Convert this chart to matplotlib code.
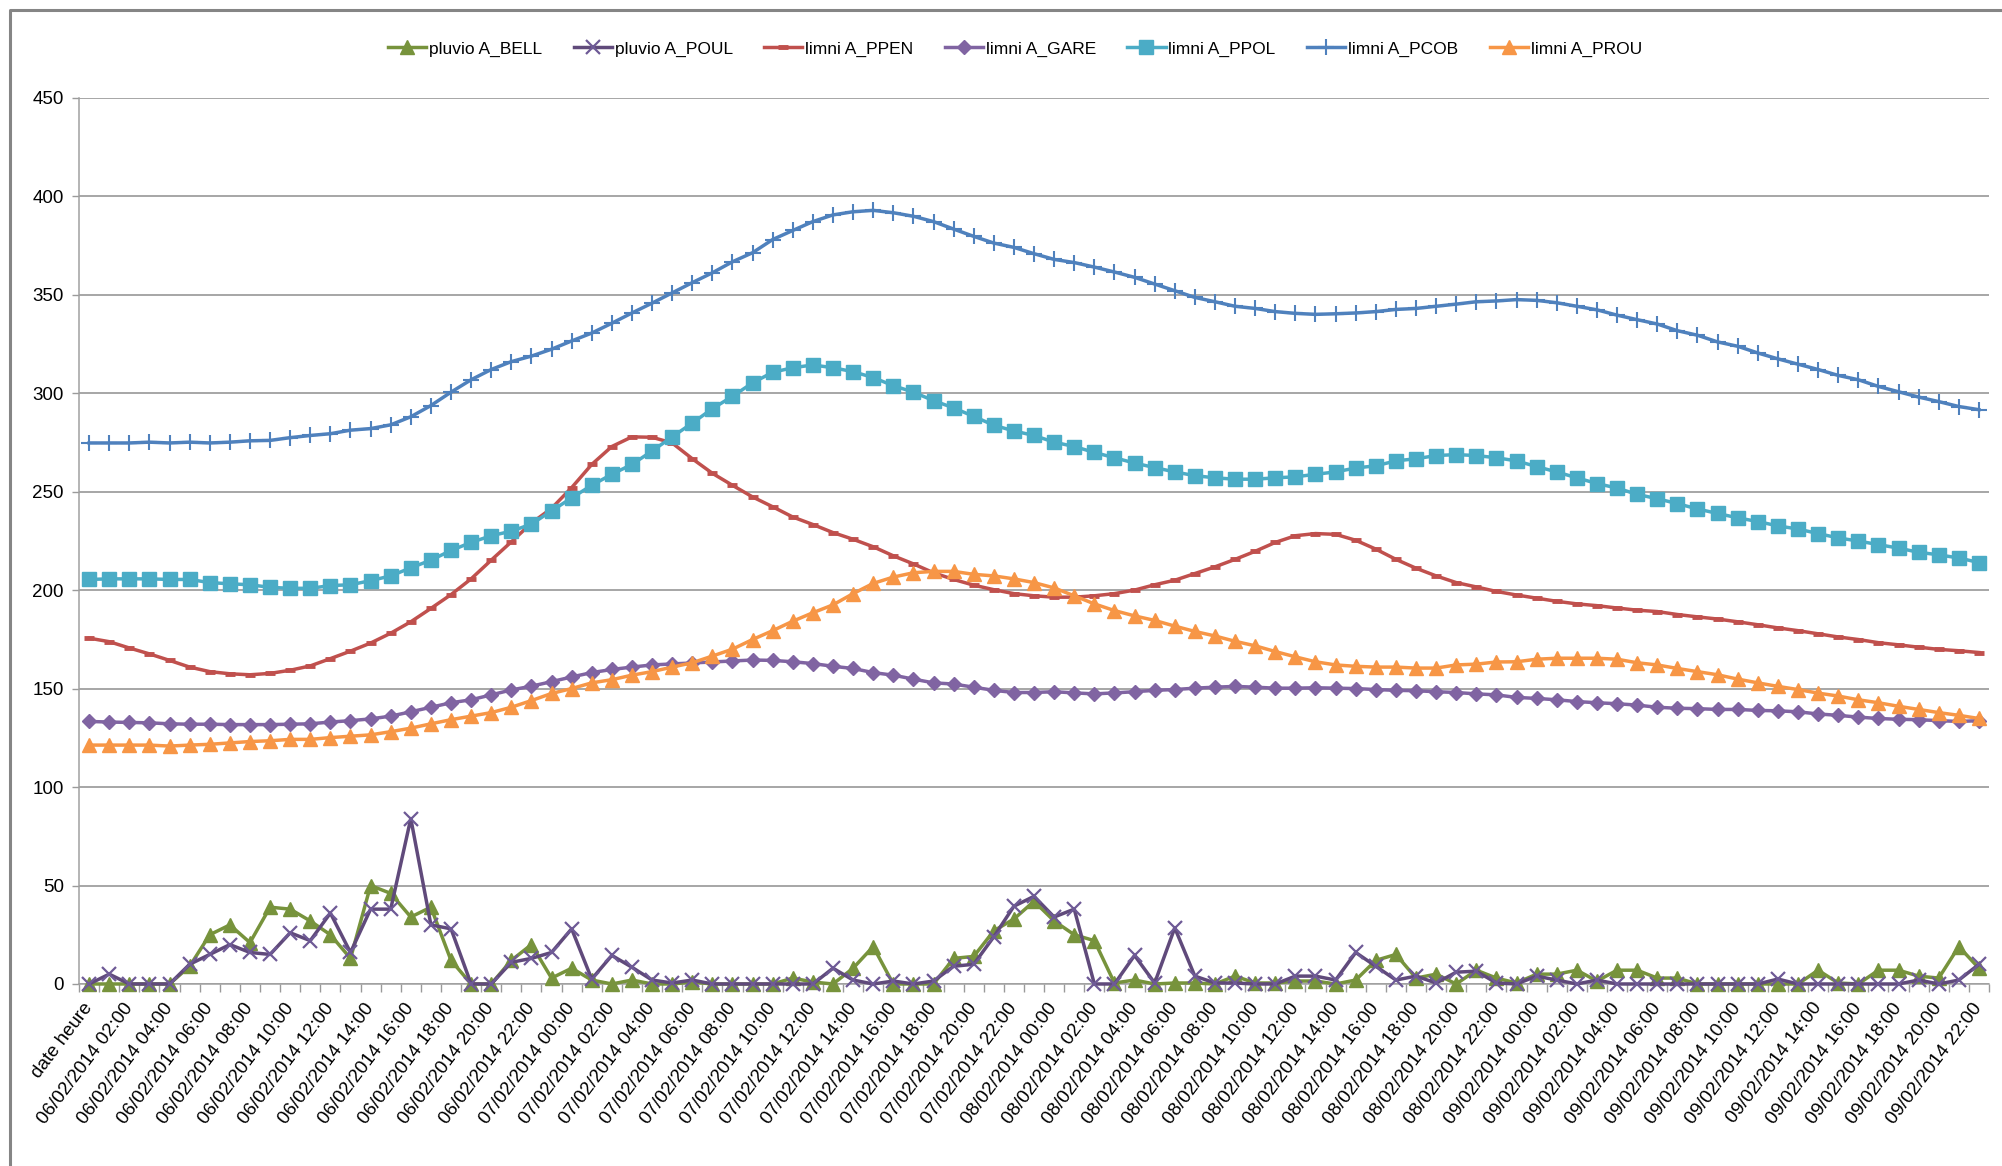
import matplotlib
matplotlib.use('Agg')
import matplotlib.pyplot as plt
import numpy as np
import pandas as pd
from matplotlib.lines import Line2D

plt.rcParams['font.family'] = ['Liberation Sans', 'DejaVu Sans']

# hourly categories: first one is the header cell "date heure"
times = pd.date_range('2014-02-06 01:00', periods=94, freq='h')
categories = ['date heure'] + [t.strftime('%d/%m/%Y %H:%M') for t in times]

pluvio_bell = [0, 0, 0, 0, 0, 9, 25, 30, 21, 39,
               38, 32, 25, 13, 50, 46, 34, 39, 12, 0,
               0, 12, 20, 3, 8, 2, 0, 2, 0, 0,
               1, 0, 0, 0, 0, 3, 1, 0, 8, 19,
               0, 0, 0, 13, 14, 27, 33, 42, 32, 25,
               22, 0.5, 2, 0, 0.5, 0.5, 0, 4, 0.5, 0.5,
               1.5, 1.5, 0, 2, 12, 15, 3, 5, 0, 7,
               3, 0.5, 5, 5, 7, 1.5, 7, 7, 3, 3,
               0, 0, 0, 0, 0, 0, 7, 0.5, 0, 7,
               7, 4, 3, 19, 8]

pluvio_poul = [0, 5, 0, 0, 0, 10, 15, 20, 16, 15,
               26, 22, 36, 16, 38, 38, 84, 30, 28, 0,
               0, 11, 13, 16, 28, 2.5, 14.5, 8.5, 2, 0.5,
               2, 0, 0, 0, 0, 0, 0, 8, 2, 0,
               1.5, 0, 1.5, 9, 10, 24, 39.5, 44.5, 34, 38,
               0, 0, 14.5, 0.5, 28.5, 4, 0.5, 0.5, 0, 0,
               4, 4, 2, 16, 9, 2, 4, 0.5, 6, 6.5,
               0.5, 0, 4, 2, 0, 2, 0, 0, 0, 0,
               0, 0, 0, 0, 2.5, 0, 0, 0, 0, 0,
               0, 2, 0, 2, 10]

limni_ppen = [175.6, 173.8, 170.6, 167.6, 164.3, 160.9, 158.6, 157.5, 157.0, 157.7,
              159.3, 161.5, 165.2, 169.0, 173.1, 178.1, 183.9, 190.7, 197.7, 205.7,
              215.2, 224.5, 234.0, 241.5, 252.0, 263.8, 272.9, 277.8, 277.6, 274.7,
              266.7, 259.3, 253.2, 247.3, 242.3, 237.1, 233.3, 229.2, 225.8, 222.0,
              217.4, 213.3, 208.8, 205.4, 202.5, 200.2, 198.2, 197.1, 196.4, 196.4,
              197.1, 198.2, 200.0, 202.7, 205.0, 208.4, 211.8, 215.6, 219.7, 224.2,
              227.6, 228.7, 228.3, 225.3, 220.8, 215.6, 211.1, 207.2, 203.8, 201.6,
              199.3, 197.5, 195.9, 194.3, 193.0, 192.1, 190.9, 189.8, 189.1, 187.6,
              186.4, 185.3, 183.9, 182.4, 180.8, 179.4, 177.8, 176.2, 174.9, 173.3,
              172.2, 171.0, 169.9, 169.2, 168.3]

limni_gare = [133.3, 133.0, 132.8, 132.6, 132.1, 131.9, 131.9, 131.7, 131.7, 131.7,
              131.9, 132.1, 133.0, 133.7, 134.6, 136.0, 138.2, 140.5, 142.8, 144.3,
              146.8, 149.3, 151.2, 153.5, 155.9, 158.1, 159.7, 160.9, 162.0, 162.5,
              163.0, 163.5, 164.0, 164.5, 164.3, 163.6, 162.7, 161.3, 160.2, 158.1,
              156.8, 154.8, 152.9, 152.3, 150.7, 149.1, 148.0, 148.0, 148.4, 147.8,
              147.3, 147.8, 148.4, 149.1, 149.5, 150.2, 150.7, 151.1, 150.7, 150.2,
              150.2, 150.4, 150.2, 150.0, 149.5, 149.1, 148.9, 148.4, 148.0, 147.3,
              146.8, 145.5, 145.0, 144.3, 143.4, 142.8, 142.3, 141.6, 140.5, 140.0,
              139.8, 139.4, 139.4, 138.9, 138.7, 138.2, 137.1, 136.4, 135.5, 134.8,
              134.4, 134.2, 133.7, 133.3, 133.7]

limni_ppol = [205.4, 205.7, 205.7, 205.7, 205.4, 205.4, 203.8, 203.2, 202.7, 201.4,
              200.9, 200.9, 202.3, 202.7, 204.8, 207.2, 211.3, 215.2, 220.1, 224.2,
              227.6, 229.9, 233.5, 240.2, 246.8, 253.2, 258.8, 263.8, 270.6, 277.8,
              284.8, 292.1, 298.4, 305.2, 310.6, 312.9, 314.3, 312.9, 310.9, 307.9,
              303.8, 300.5, 296.2, 292.5, 288.2, 283.7, 280.8, 278.5, 275.1, 272.9,
              269.9, 267.2, 264.5, 262.2, 260.0, 258.1, 257.0, 256.3, 256.3, 257.0,
              257.5, 258.8, 260.0, 262.0, 263.1, 265.6, 266.7, 268.3, 268.8, 268.3,
              267.2, 265.6, 262.7, 260.0, 257.0, 254.1, 251.8, 248.6, 246.4, 243.9,
              241.2, 238.9, 236.7, 234.8, 232.6, 231.0, 228.7, 226.5, 224.9, 223.1,
              221.3, 219.2, 217.9, 216.3, 214.0]

limni_pcob = [274.7, 274.7, 274.7, 275.1, 274.7, 275.1, 274.7, 275.1, 275.8, 276.0,
              277.4, 278.5, 279.4, 281.2, 282.0, 283.9, 288.0, 293.7, 300.5, 306.8,
              312.0, 316.0, 318.8, 322.3, 326.5, 330.5, 335.5, 340.7, 345.7, 350.9,
              356.1, 361.1, 366.7, 371.3, 378.0, 382.6, 387.1, 390.5, 392.1, 392.8,
              391.6, 389.8, 387.1, 383.3, 379.6, 376.2, 374.0, 370.8, 367.9, 366.3,
              364.0, 361.5, 358.8, 355.4, 352.0, 348.6, 346.4, 344.1, 343.0, 341.4,
              340.5, 340.0, 340.3, 340.7, 341.4, 342.5, 343.0, 344.1, 345.2, 346.4,
              346.8, 347.5, 347.1, 345.9, 344.1, 342.3, 339.6, 337.3, 335.1, 331.7,
              329.4, 326.0, 323.8, 320.4, 317.4, 314.7, 312.0, 309.0, 306.8, 303.4,
              300.7, 298.0, 295.7, 293.2, 291.6]

limni_prou = [121.3, 121.3, 121.3, 121.3, 120.8, 121.3, 121.7, 122.4, 123.1, 123.5,
              124.2, 124.2, 125.1, 125.8, 126.5, 128.1, 129.9, 132.1, 134.2, 136.0,
              137.8, 140.5, 143.9, 147.5, 150.0, 152.9, 154.5, 156.8, 158.6, 160.9,
              163.1, 166.5, 170.0, 174.9, 179.4, 184.2, 188.5, 192.5, 198.2, 203.4,
              206.6, 208.8, 209.5, 209.5, 208.0, 207.2, 205.7, 203.8, 201.1, 197.1,
              193.0, 189.6, 186.9, 184.6, 181.7, 179.0, 176.7, 174.0, 171.7, 168.8,
              166.1, 163.6, 162.0, 161.3, 160.9, 160.9, 160.4, 160.4, 162.0, 162.4,
              163.5, 163.6, 164.9, 165.4, 165.4, 165.4, 164.9, 163.1, 162.0, 160.2,
              158.6, 157.0, 154.8, 152.9, 151.1, 149.5, 147.7, 146.2, 144.3, 142.8,
              141.0, 139.4, 137.8, 136.4, 134.8]

x = np.arange(len(categories))

fig = plt.figure(figsize=(20.02, 11.66), dpi=100)
ax = fig.add_axes([0.0395, 0.1561, 0.954, 0.7601])

lw = 2.5
ax.plot(x, pluvio_bell, color='#77933C', lw=lw, marker='^', ms=10.5,
        label='pluvio A_BELL', clip_on=False, zorder=3)
ax.plot(x, pluvio_poul, color='#604A7B', lw=lw, marker='x', ms=10, mew=1.6,
        markeredgecolor='#6E5A96', label='pluvio A_POUL', clip_on=False, zorder=3)
ax.plot(x, limni_ppen, color='#C0504D', lw=lw, marker='_', ms=7, mew=3.5,
        label='limni A_PPEN', zorder=3)
ax.plot(x, limni_gare, color='#8064A2', lw=lw, marker='D', ms=7.5,
        label='limni A_GARE', zorder=3)
ax.plot(x, limni_ppol, color='#4BACC6', lw=lw, marker='s', ms=10.5,
        label='limni A_PPOL', zorder=3)
ax.plot(x, limni_pcob, color='#4F81BD', lw=lw, marker='+', ms=11, mew=1.5,
        label='limni A_PCOB', zorder=3)
ax.plot(x, limni_prou, color='#F79646', lw=lw, marker='^', ms=10.5,
        label='limni A_PROU', zorder=3)

ax.set_xlim(-0.5, len(categories) - 0.5)
ax.set_ylim(0, 450)
ax.set_yticks(range(0, 451, 50))

ax.set_xticks(x[::2])
ax.set_xticklabels(categories[::2], rotation=53, ha='right', va='center',
                   rotation_mode='anchor', fontsize=13.5)
ax.set_xticks(np.arange(-0.5, len(categories), 1), minor=True)
ax.tick_params(axis='x', which='major', length=0, pad=15)
ax.tick_params(axis='x', which='minor', length=6, color='#9a9a9a', width=1)
ax.tick_params(axis='y', length=5, color='#9a9a9a', width=1, pad=6, labelsize=13.5)

ax.yaxis.grid(True, color='#8e8e8e', lw=1.1)
ax.set_axisbelow(True)
for side in ['top', 'right']:
    ax.spines[side].set_visible(False)
for side in ['left', 'bottom']:
    ax.spines[side].set_color('#a0a0a0')
    ax.spines[side].set_linewidth(1.1)

handles, labels = ax.get_legend_handles_labels()
fig.legend(handles, labels, loc='center', bbox_to_anchor=(0.507, 0.958), ncol=7,
           frameon=False, fontsize=12.5, handlelength=2.2, handletextpad=0.17,
           columnspacing=1.8)

# chart area border (left and top edges visible)
fig.add_artist(Line2D([10 / 2002, 10 / 2002, 1.0], [0.0, 1 - 10 / 1166, 1 - 10 / 1166],
                      transform=fig.transFigure, color='#858585', lw=2.2))

fig.savefig('out.png', dpi=100)
